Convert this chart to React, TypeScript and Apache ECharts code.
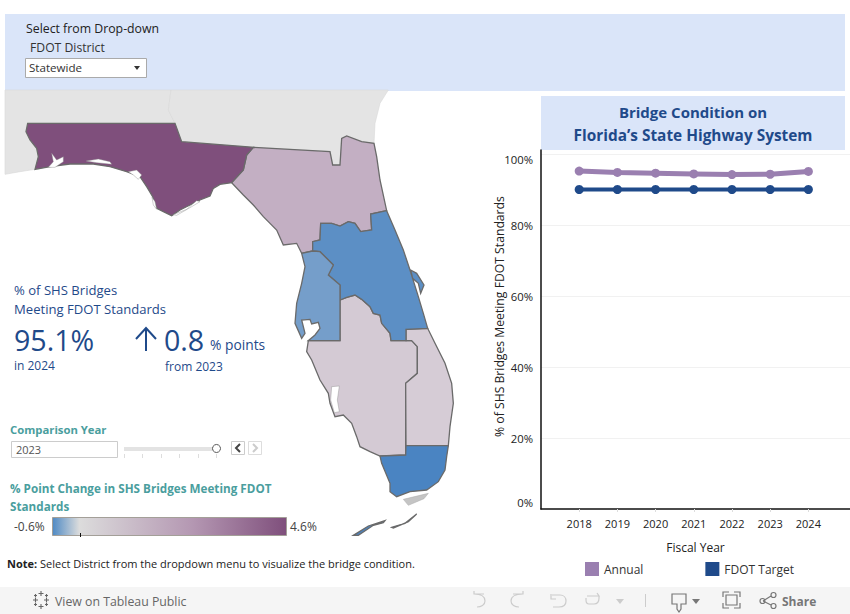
import React, { useEffect, useRef } from "react";
import * as echarts from "echarts";

const years = [2018, 2019, 2020, 2021, 2022, 2023, 2024];
const annual = [95.2, 94.8, 94.6, 94.4, 94.2, 94.3, 95.1];
const target = [90, 90, 90, 90, 90, 90, 90];
const yTicks = [0, 20, 40, 60, 80, 100];

const districtNames = ["District 1", "District 2", "District 3", "District 4", "District 5", "District 6", "District 7"];
const districtChange = [0.75, 1.7, 4.6, 0.65, -0.52, -0.6, -0.41];

type Ring = number[][];
// outlines in map units (one unit is a third of a screen pixel)
const alabama: Ring = [[15, 0], [513, 0], [505, 60], [525, 100], [83, 100], [78, 125], [90, 150], [110, 175], [115, 200], [105, 238], [60, 245], [15, 253]];
const georgia: Ring = [[513, 0], [1165, 0], [1140, 40], [1125, 100], [1122, 160], [1085, 155], [1040, 138], [1025, 145], [1020, 225], [998, 225], [990, 185], [760, 172], [545, 155], [525, 100], [505, 60]];
const d3: Ring = [[83, 100], [525, 100], [545, 155], [760, 172], [740, 195], [730, 240], [695, 278], [660, 283], [640, 295], [630, 318], [600, 330], [570, 345], [540, 360], [515, 377], [490, 365], [470, 355], [458, 320], [440, 290], [420, 260], [380, 245], [330, 230], [280, 222], [210, 222], [150, 230], [105, 238], [115, 200], [110, 175], [90, 150], [78, 125]];
const d3Bays: Ring[] = [
  [[145, 232], [160, 215], [155, 190], [170, 210], [190, 200], [190, 215], [165, 232]],
  [[258, 213], [295, 207], [330, 215], [335, 223], [290, 218]],
  [[385, 245], [410, 240], [425, 255], [415, 268], [400, 255]],
  [[456, 322], [465, 335], [470, 358], [460, 345]],
  [[520, 374], [560, 358], [590, 332], [600, 335], [570, 353], [530, 376]],
];
const d2: Ring = [[760, 172], [990, 185], [998, 225], [1020, 225], [1025, 145], [1040, 138], [1085, 155], [1122, 160], [1130, 200], [1140, 270], [1160, 362], [1112, 372], [1115, 420], [1082, 425], [1065, 400], [1045, 395], [1020, 408], [995, 400], [962, 400], [960, 450], [938, 455], [938, 483], [905, 490], [890, 460], [850, 465], [830, 420], [790, 380], [760, 345], [730, 315], [695, 278], [730, 240], [740, 195]];
const d5: Ring = [[1160, 362], [1112, 372], [1115, 420], [1082, 425], [1065, 400], [1045, 395], [1020, 408], [995, 400], [962, 400], [960, 450], [938, 455], [938, 483], [960, 485], [1000, 525], [985, 555], [1020, 585], [1020, 630], [1040, 622], [1065, 615], [1085, 628], [1110, 650], [1120, 670], [1140, 675], [1145, 700], [1170, 730], [1173, 752], [1218, 752], [1218, 718], [1283, 715], [1270, 670], [1255, 620], [1230, 540], [1210, 480], [1185, 420]];
const d5Island: Ring = [[1232, 540], [1250, 550], [1272, 585], [1262, 610], [1255, 580], [1238, 565]];
const d7: Ring = [[938, 483], [905, 490], [915, 530], [905, 580], [890, 640], [885, 700], [905, 745], [915, 730], [905, 690], [930, 688], [935, 702], [955, 697], [960, 715], [945, 735], [925, 752], [1020, 752], [1020, 585], [985, 555], [1000, 525], [960, 485]];
const d1: Ring = [[1020, 630], [1040, 622], [1065, 615], [1085, 628], [1110, 650], [1120, 670], [1140, 675], [1145, 700], [1170, 730], [1173, 752], [1235, 752], [1252, 770], [1252, 850], [1217, 880], [1217, 1095], [1140, 1098], [1110, 1085], [1080, 1070], [1070, 1040], [1055, 1000], [1030, 975], [1005, 980], [990, 940], [985, 910], [960, 870], [935, 810], [920, 785], [925, 752], [1020, 752]];
const d1Harbor: Ring = [[995, 890], [1018, 888], [1012, 930], [1018, 965], [1003, 968], [992, 930]];
const d4: Ring = [[1218, 718], [1283, 715], [1305, 760], [1335, 820], [1355, 880], [1360, 940], [1350, 1010], [1345, 1067], [1218, 1067], [1217, 880], [1252, 850], [1252, 770], [1235, 752], [1218, 752]];
const d6: Ring = [[1218, 1067], [1345, 1067], [1340, 1100], [1335, 1140], [1315, 1175], [1280, 1200], [1230, 1205], [1190, 1220], [1170, 1205], [1170, 1180], [1145, 1120], [1140, 1098], [1217, 1095]];
const d6Keys: Ring = [[1060, 1336], [1105, 1308], [1155, 1292], [1150, 1298], [1120, 1306], [1075, 1336]];
const d6Keys2: Ring = [[1175, 1312], [1215, 1300], [1250, 1272], [1225, 1295], [1180, 1314]];
const upperKeys: Ring = [[1210, 1228], [1285, 1210], [1272, 1226], [1225, 1246]];

const close = (r: Ring) => [...r, r[0]].map(([x, y]) => [x, -y]);
const feature = (name: string, polys: Ring[]) => ({
  type: "Feature",
  properties: { name },
  geometry: { type: "MultiPolygon", coordinates: polys.map((p) => [close(p)]) },
});

const geoJson = {
  type: "FeatureCollection",
  features: [
    feature("Alabama", [alabama]),
    feature("Georgia", [georgia]),
    feature("Upper Keys", [upperKeys]),
    feature("District 1", [d1]),
    feature("District 2", [d2]),
    feature("District 3", [d3]),
    feature("District 4", [d4]),
    feature("District 5", [d5, d5Island]),
    feature("District 6", [d6, d6Keys, d6Keys2]),
    feature("District 7", [d7]),
    feature("Water", [...d3Bays, d1Harbor]),
  ],
};

const navy = "#1f4a8a";
const teal = "#4a9e9e";
const banner = "#dae5f9";
const font = "'Open Sans', sans-serif";

const iconPaths: Record<string, string> = {
  tLogo: "M41 591V596M38.5 593.5H43.5M41 604V609M38.5 606.5H43.5M33 600H38M35.5 597.5V602.5M44 600H49M46.5 597.5V602.5M35.5 594V597M34 595.5H37M46.5 594V597M45 595.5H48M35.5 603V606M34 604.5H37M46.5 603V606M45 604.5H48",
  undo: "M484 594H474L474 591M474 594C480 594 485 596 485 601C485 605 481 607 477 607",
  redo: "M513 594H523V591M523 594C517 594 511 596 511 601C511 605 515 607 519 607",
  revert: "M551 594V599H556M552 595H560C564 595 566 598 566 601C566 605 563 607 559 607H553",
  refresh: "M587 596H599L597 593M599 596V598C599 601 598 604 594 604H589C587 604 586 602 586 600V598",
  device: "M672 594H686V604H681V609L679 612L677 609V604H672Z",
  full: "M723 597V592H729M734 592H740V597M723 603V608H729M734 608H740V603M726 595H737V605H726Z",
  share: "M763 601L771 596M763 601L771 605M765 601C765 602.5 764 603.5 762.5 603.5C761 603.5 760 602.5 760 601C760 599.5 761 598.5 762.5 598.5C764 598.5 765 599.5 765 601ZM776 595C776 596.5 775 597.5 773.5 597.5C772 597.5 771 596.5 771 595C771 593.5 772 592.5 773.5 592.5C775 592.5 776 593.5 776 595ZM776 606C776 607.5 775 608.5 773.5 608.5C772 608.5 771 607.5 771 606C771 604.5 772 603.5 773.5 603.5C775 603.5 776 604.5 776 606Z",
  upArrow: "M146 351V329M136 339L146 328L156 339",
};
const sliderTicks = [124, 142, 161, 179, 198, 216];

export default function App() {
  const ref = useRef<HTMLDivElement>(null);
  useEffect(() => {
    document.body.style.margin = "0";
    document.body.style.background = "#fff";
    Object.entries(iconPaths).forEach(([k, d]) =>
      echarts.graphic.registerShape(k, echarts.graphic.extendPath(d, {}))
    );
    echarts.registerMap("florida", geoJson as any);
    const chart = echarts.init(ref.current!, null, { renderer: "svg" });

    const txt = (text: string, x: number, y: number, style: any = {}) => ({
      type: "text",
      x,
      y,
      silent: true,
      style: { text, fill: "#333", font: `11px ${font}`, verticalAlign: "middle", ...style },
    });
    const rect = (x: number, y: number, width: number, height: number, style: any) => ({
      type: "rect",
      shape: { x, y, width, height },
      silent: true,
      style,
    });
    const icon = (name: string, stroke: string, lineWidth = 1.2) => ({
      type: name,
      x: 0,
      y: 0,
      silent: true,
      style: { stroke, fill: "none", lineWidth },
    });

    const graphics: any[] = [
      rect(5, 14, 840, 77, { fill: banner }),
      txt("Select from Drop-down", 26, 28.5, { font: `12.3px ${font}`, fill: "#222" }),
      txt("FDOT District", 30, 47.5, { font: `12.2px ${font}`, fill: "#333" }),
      rect(25.5, 58.5, 121, 19, { fill: "#fff", stroke: "#aaa", lineWidth: 1 }),
      txt("Statewide", 29, 67.5, { font: `11.6px ${font}`, fill: "#333" }),
      { type: "polygon", shape: { points: [[134, 66], [140, 66], [137, 70]] }, silent: true, style: { fill: "#333" } },

      rect(541, 96, 304, 54, { fill: banner }),
      txt("Bridge Condition on", 693, 112, { font: `bold 15px ${font}`, fill: navy, align: "center" }),
      txt("Florida\u2019s State Highway System", 693, 135, { font: `bold 15.4px ${font}`, fill: navy, align: "center" }),

      txt("% of SHS Bridges", 14, 290, { font: `13.1px ${font}`, fill: navy }),
      txt("Meeting FDOT Standards", 14, 309, { font: `13.1px ${font}`, fill: navy }),
      txt("95.1%", 14, 339, { font: `28.6px ${font}`, fill: navy }),
      icon("upArrow", navy, 2),
      txt("0.8", 164, 339, { font: `28.6px ${font}`, fill: navy }),
      txt("% points", 210, 344, { font: `13.8px ${font}`, fill: navy }),
      txt("in 2024", 14, 365.5, { font: `12px ${font}`, fill: navy }),
      txt("from 2023", 165, 366.5, { font: `12px ${font}`, fill: navy }),

      txt("Comparison Year", 10, 429.5, { font: `bold 11.3px ${font}`, fill: teal }),
      rect(11.5, 441.5, 106, 16, { fill: "#fff", stroke: "#ccc", lineWidth: 1 }),
      txt("2023", 16, 449.5, { font: `11px ${font}`, fill: "#555" }),
      rect(124, 447, 92, 4, { fill: "#e3e3e3" }),
      ...sliderTicks.map((x) => ({
        type: "line",
        shape: { x1: x + 0.5, y1: 454, x2: x + 0.5, y2: 458 },
        silent: true,
        style: { stroke: "#ddd", lineWidth: 1 },
      })),
      { type: "circle", shape: { cx: 216.5, cy: 448.5, r: 4 }, silent: true, style: { fill: "#fff", stroke: "#555", lineWidth: 1 } },
      rect(231.5, 441.5, 13, 13, { fill: "#fff", stroke: "#ccc", lineWidth: 1 }),
      { type: "polyline", shape: { points: [[240, 444], [236, 448], [240, 452]] }, silent: true, style: { stroke: "#444", lineWidth: 2, fill: "none" } },
      rect(248.5, 441.5, 13, 13, { fill: "#fff", stroke: "#ddd", lineWidth: 1 }),
      { type: "polyline", shape: { points: [[253, 444], [257, 448], [253, 452]] }, silent: true, style: { stroke: "#ccc", lineWidth: 2, fill: "none" } },

      txt("% Point Change in SHS Bridges Meeting FDOT", 10, 488, { font: `bold 11.7px ${font}`, fill: teal }),
      txt("Standards", 10, 506, { font: `bold 11.7px ${font}`, fill: teal }),
      txt("-0.6%", 14, 526, { font: `12px ${font}`, fill: "#444" }),
      txt("4.6%", 290, 526, { font: `12px ${font}`, fill: "#444" }),
      rect(52.5, 517.5, 234, 18, {
        stroke: "#a39f98",
        lineWidth: 1,
        fill: new echarts.graphic.LinearGradient(0, 0, 1, 0, [
          { offset: 0, color: "#4f8ac4" },
          { offset: 0.115, color: "#dcdcdc" },
          { offset: 0.6, color: "#b497b2" },
          { offset: 1, color: "#7f4f7c" },
        ]),
      }),
      { type: "line", shape: { x1: 80.5, y1: 533, x2: 80.5, y2: 537 }, silent: true, style: { stroke: "#111", lineWidth: 1 } },

      {
        type: "text",
        x: 7,
        y: 563,
        silent: true,
        style: {
          text: "{b|Note:} Select District from the dropdown menu to visualize the bridge condition.",
          verticalAlign: "middle",
          fill: "#222",
          font: `11px ${font}`,
          rich: { b: { font: `bold 11px ${font}`, fill: "#222" } },
        },
      },

      rect(0, 587, 850, 27, { fill: "#f5f5f5" }),
      icon("tLogo", "#666", 1.1),
      txt("View on Tableau Public", 55, 601, { font: `12.3px ${font}`, fill: "#666" }),
      icon("undo", "#ccc"),
      icon("redo", "#ccc"),
      icon("revert", "#ccc"),
      icon("refresh", "#ccc"),
      { type: "polygon", shape: { points: [[616, 599], [624, 599], [620, 604]] }, silent: true, style: { fill: "#ccc" } },
      { type: "line", shape: { x1: 645.5, y1: 594, x2: 645.5, y2: 607 }, silent: true, style: { stroke: "#ccc", lineWidth: 1 } },
      icon("device", "#777"),
      { type: "polygon", shape: { points: [[692, 599], [700, 599], [696, 604]] }, silent: true, style: { fill: "#777" } },
      icon("full", "#777"),
      icon("share", "#777"),
      txt("Share", 782, 601, { font: `bold 12px ${font}`, fill: "#777" }),
    ];

    const option: any = {
      animation: false,
      backgroundColor: "#fff",
      textStyle: { fontFamily: font },
      grid: { left: 541, top: 150, width: 309, height: 359, containLabel: false },
      xAxis: {
        type: "value",
        min: 2017,
        max: 2025.09,
        interval: 1,
        name: "Fiscal Year",
        nameLocation: "middle",
        nameGap: 32,
        nameMoveOverlap: false,
        nameTextStyle: { color: "#222", fontSize: 12, fontFamily: font },
        axisLine: { onZero: false, lineStyle: { color: "#111", width: 1.5 } },
        axisTick: { show: true, customValues: years, length: 3, lineStyle: { color: "#ddd" } },
        axisLabel: {
          customValues: years,
          color: "#222",
          fontSize: 11,
          fontFamily: font,
          margin: 9,
          formatter: (v: number) => String(v),
        },
        splitLine: { show: false },
      },
      yAxis: {
        type: "value",
        min: 0,
        max: 101.13,
        interval: 20,
        name: "% of SHS Bridges Meeting FDOT Standards",
        nameLocation: "middle",
        nameGap: 36,
        nameMoveOverlap: false,
        nameTextStyle: { color: "#222", fontSize: 12.2, fontFamily: font, padding: [0, 0, 0, 26] },
        axisLine: { show: true, lineStyle: { color: "#111", width: 1.5 } },
        axisTick: { show: false },
        splitLine: { show: true, showMinLine: false, showMaxLine: false, lineStyle: { color: "#f1f1f1", width: 1 } },
        axisLabel: {
          customValues: yTicks,
          color: "#222",
          fontSize: 11.3,
          fontFamily: font,
          margin: 8,
          formatter: (v: number) => (v === 100 ? `{top|${v}%}` : v === 0 ? `{bot|${v}%}` : `${v}%`),
          rich: {
            top: { color: "#222", fontSize: 11.3, fontFamily: font, padding: [10, 0, 0, 0] },
            bot: { color: "#222", fontSize: 11.3, fontFamily: font, padding: [0, 0, 14, 0] },
          },
        },
      },
      legend: {
        left: 580,
        top: 557,
        itemWidth: 14,
        itemHeight: 14,
        itemGap: 62,
        icon: "rect",
        itemStyle: { borderWidth: 0 },
        selectedMode: false,
        textStyle: { color: "#333", fontSize: 12, fontFamily: font },
        data: ["Annual", "FDOT Target"],
      },
      visualMap: {
        show: false,
        seriesIndex: 2,
        min: -0.6,
        max: 4.6,
        inRange: {
          color: ["#4a84c2", "#dcdcdc", "#d5cbd5", "#cbbacb", "#bda6bc", "#ad91ac", "#9f7e9d", "#8f6690", "#7f4f7c"],
        },
      },
      series: [
        {
          name: "Annual",
          type: "line",
          data: years.map((y, i) => [y, annual[i]]),
          color: "#9a7fb0",
          lineStyle: { width: 5, color: "#9a7fb0" },
          symbol: "circle",
          symbolSize: 9,
          itemStyle: { color: "#9a7fb0" },
          silent: true,
        },
        {
          name: "FDOT Target",
          type: "line",
          data: years.map((y, i) => [y, target[i]]),
          color: navy,
          lineStyle: { width: 4, color: navy },
          symbol: "circle",
          symbolSize: 9,
          itemStyle: { color: navy },
          silent: true,
        },
        {
          type: "map",
          map: "florida",
          silent: true,
          roam: false,
          showLegendSymbol: false,
          aspectScale: 1,
          left: 0,
          top: 90,
          width: 850,
          height: 460,
          boundingCoords: [[0, 0], [2550, -1380]],
          label: { show: false },
          emphasis: { disabled: true },
          select: { disabled: true },
          selectedMode: false,
          itemStyle: { areaColor: "#e4e4e4", borderColor: "#6a6a6a", borderWidth: 1.3 },
          data: [
            ...districtNames.map((name, i) => ({ name, value: districtChange[i] })),
            { name: "Alabama", itemStyle: { borderColor: "#d8d8d8", borderWidth: 0.6 } },
            { name: "Georgia", itemStyle: { borderColor: "#d8d8d8", borderWidth: 0.6 } },
            { name: "Upper Keys", itemStyle: { areaColor: "#c4c4c4", borderColor: "#aaa", borderWidth: 0.5 } },
            { name: "Water", itemStyle: { areaColor: "#ffffff", borderColor: "#888", borderWidth: 0.4 } },
          ],
        },
      ],
      graphic: { elements: graphics },
    };
    chart.setOption(option);
    return () => chart.dispose();
  }, []);
  return <div ref={ref} style={{ position: "absolute", left: 0, top: 0, width: 850, height: 614 }} />;
}
